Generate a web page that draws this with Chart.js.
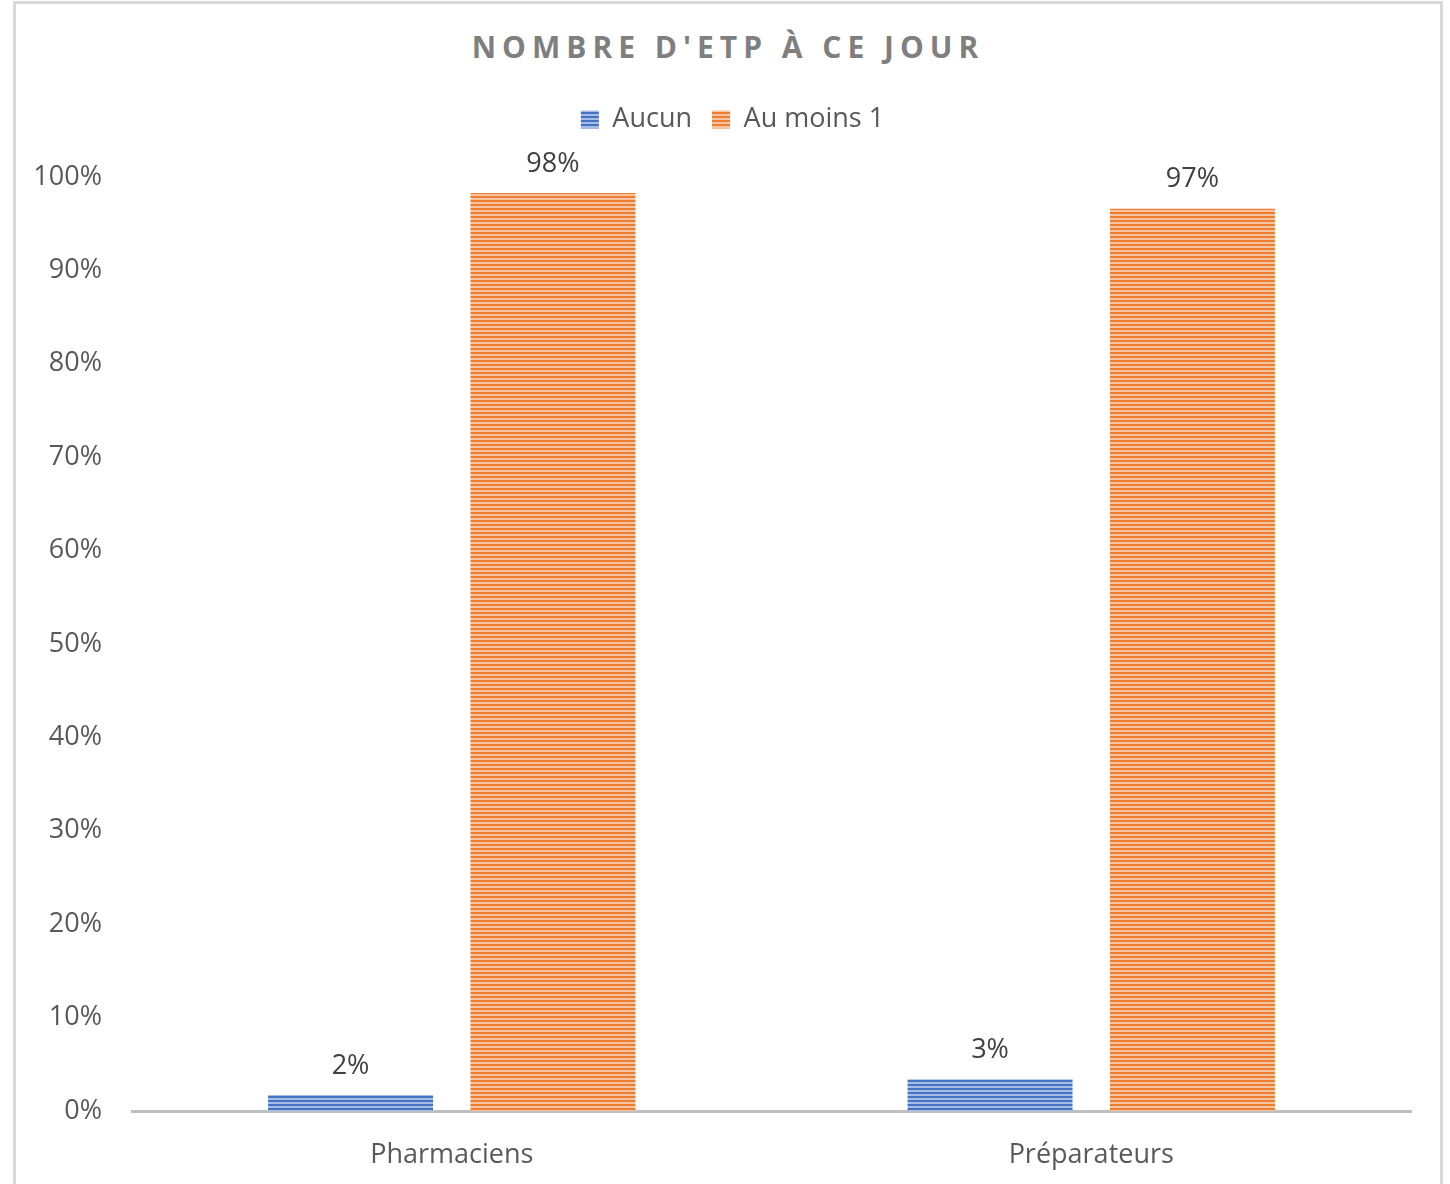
<!DOCTYPE html>
<html>
<head>
<meta charset="utf-8">
<script src="https://cdn.jsdelivr.net/npm/chart.js@4/dist/chart.umd.min.js"></script>
<style>
    body { margin: 0; background: #fff; }
    #frame {
        position: absolute; left: 13px; top: 1px; width: 1430px; height: 1200px;
        border: 3px solid #d9d9d9; box-sizing: border-box;
    }
    #title {
        position: absolute; left: 3px; top: 26px; width: 1450px; text-align: center;
        font: bold 30px "Open Sans", sans-serif; letter-spacing: 6px; color: #7f7f7f;
    }
    #wrap { position: absolute; left: 0; top: 0; width: 1450px; height: 1184px; }
</style>
</head>
<body>
<div id="frame"></div>
<div id="title">NOMBRE D'ETP À CE JOUR</div>
<div id="wrap"><canvas id="chart" width="1450" height="1184"></canvas></div>
<script>
const categories = ['Pharmaciens', 'Préparateurs'];
const seriesNames = ['Aucun', 'Au moins 1'];
const aucunValues = [1.7, 3.4];
const auMoinsValues = [98.3, 96.6];

// horizontal stripes like the Excel pattern fill
function stripes(dark, light) {
    const c = document.createElement('canvas');
    c.width = 4; c.height = 4;
    const g = c.getContext('2d');
    g.fillStyle = light;
    g.fillRect(0, 0, 4, 4);
    g.fillStyle = dark;
    g.fillRect(0, 0, 4, 2);
    return g.createPattern(c, 'repeat');
}

const labelPlugin = {
    id: 'valueLabels',
    afterDatasetsDraw(chart) {
        const ctx = chart.ctx;
        ctx.save();
        ctx.font = '27px "Open Sans", sans-serif';
        ctx.fillStyle = '#404040';
        ctx.textAlign = 'center';
        ctx.textBaseline = 'middle';
        chart.data.datasets.forEach((ds, i) => {
            chart.getDatasetMeta(i).data.forEach((bar, j) => {
                ctx.fillText(Math.round(ds.data[j]) + '%', bar.x, bar.y - 29);
            });
        });
        ctx.restore();
    }
};

// legend: fixed height below it, and nudged a bit to the right
const legendTweak = {
    id: 'legendTweak',
    beforeInit(chart) {
        const lg = chart.legend;
        const fit = lg.fit;
        lg.fit = function () { fit.call(this); this.height = 91; };
        const draw = lg.draw;
        lg.draw = function () {
            const c = this.ctx;
            c.save();
            c.translate(27, 0);
            draw.call(this);
            c.restore();
        };
    }
};

const ctx = document.getElementById('chart').getContext('2d');
new Chart(ctx, {
    type: 'bar',
    data: {
        labels: categories,
        datasets: [
            { label: seriesNames[0], data: aucunValues, backgroundColor: stripes('#4472c4', '#a8bde6') },
            { label: seriesNames[1], data: auMoinsValues, backgroundColor: stripes('#ed7d31', '#f7c3a0') }
        ]
    },
    options: {
        responsive: false,
        animation: false,
        categoryPercentage: 0.633,
        barPercentage: 0.815,
        layout: { padding: { top: 86, right: 39, left: 0, bottom: 0 } },
        plugins: {
            title: { display: false },
            tooltip: { enabled: false },
            legend: {
                position: 'top',
                labels: {
                    font: { family: 'Open Sans', size: 27 },
                    color: '#595959',
                    boxWidth: 18,
                    boxHeight: 18,
                    padding: 20
                }
            }
        },
        scales: {
            x: {
                grid: { display: false, drawTicks: false },
                border: { display: true, color: '#bfbfbf', width: 3 },
                ticks: { color: '#595959', font: { family: 'Open Sans', size: 27 }, padding: 28 },
                afterFit(axis) { axis.height = 73; }
            },
            y: {
                min: 0, max: 100,
                grid: { display: false, drawTicks: false },
                border: { display: false },
                ticks: {
                    stepSize: 10,
                    color: '#595959',
                    font: { family: 'Open Sans', size: 27 },
                    padding: 30,
                    callback: v => v + '%'
                },
                afterFit(axis) { axis.width = 132; }
            }
        }
    },
    plugins: [labelPlugin, legendTweak]
});
</script>
</body>
</html>
